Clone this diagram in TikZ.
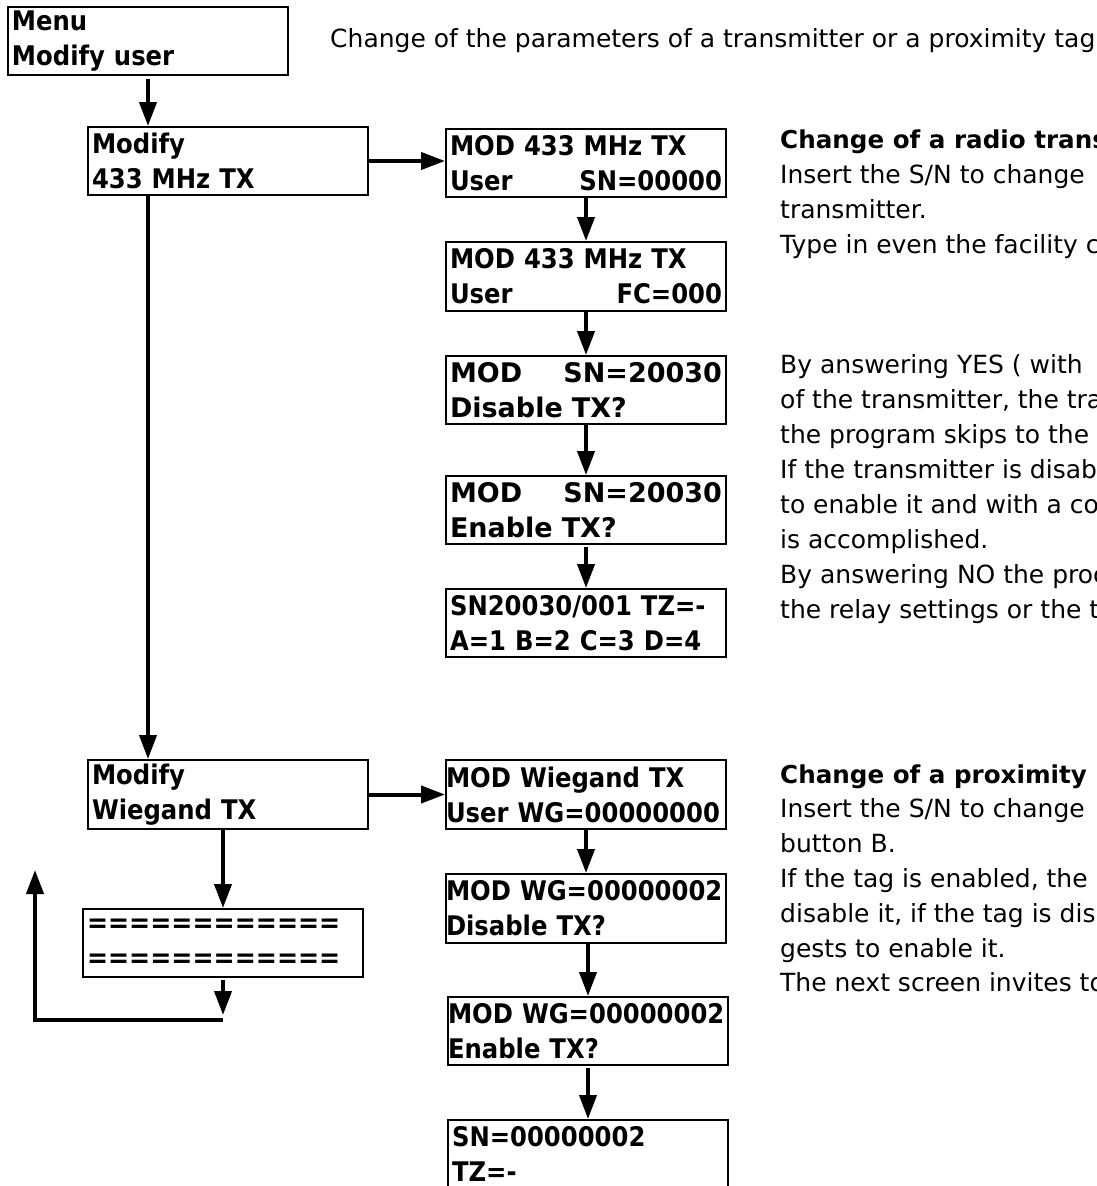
\documentclass[tikz,border=0pt]{standalone}
\usepackage{fontspec}
\setmainfont{DejaVu Sans}
\newfontfamily\lcdfont{DejaVu Sans Condensed}
\usetikzlibrary{arrows.meta, positioning, calc}

\newcommand{\rpart}[1]{\hskip 0pt plus 1filll #1\hspace*{7pt}}

\tikzset{
  lcd/.style={draw, line width=2pt, anchor=north west, minimum width=280pt, minimum height=68pt,
    text width=272pt, inner xsep=4pt, inner ysep=0pt, align=left,
    font=\lcdfont\bfseries\fontsize{27}{35}\selectfont},
  lcdwide/.style={lcd, font=\bfseries\fontsize{27}{35}\selectfont},
  lcdtight/.style={lcd, text width=280pt, inner xsep=0pt},
  body/.style={anchor=base west, inner sep=0pt, font=\fontsize{25}{35}\selectfont},
  head/.style={body, font=\bfseries\fontsize{24.6}{35}\selectfont},
  arr/.style={line width=4pt, -{Triangle[length=24pt,width=17pt]}},
}

\begin{document}
\begin{tikzpicture}[x=1pt, y=-1pt]

  \clip (0,0) rectangle (1096,1186);

  % Menu
  \node[lcd] (menu) at (7,6) {Menu\\Modify user};
  \node[body] (title) at (330,47) {Change of the parameters of a transmitter or a proximity tag};

  % --- 433 MHz column ---
  \node[lcd] (m433) at (87,126) {Modify\\433 MHz TX};
  \node[lcd] (tx1) at (445,128) {MOD 433 MHz TX\\User\rpart{SN=00000}};
  \node[lcd, minimum height=69pt] (tx2) at (445,241) {MOD 433 MHz TX\\User\rpart{FC=000}};
  \node[lcdwide] (tx3) at (445,355) {MOD\rpart{SN=20030}\\Disable TX?};
  \node[lcdwide] (tx4) at (445,475) {MOD\rpart{SN=20030}\\Enable TX?};
  \node[lcd] (tx5) at (445,588) {SN20030/001 TZ=-\\A=1 B=2 C=3 D=4};

  \draw[arr] ([yshift=-3pt]menu.south) -- (menu.south |- m433.north);
  \draw[arr] (m433.east) -- (m433.east -| tx1.west);
  \draw[arr] (tx1.south) -- (tx2.north);
  \draw[arr] (tx2.south) -- (tx3.north);
  \draw[arr] (tx3.south) -- (tx4.north);
  \draw[arr] ([yshift=-2pt]tx4.south) -- (tx5.north);

  % --- Wiegand column ---
  \node[lcd, minimum height=69pt] (mwg) at (87,759) {Modify\\Wiegand TX};
  \node[lcdtight, minimum height=69pt] (wg1) at (445,759) {MOD Wiegand TX\\User WG=00000000};
  \node[lcdtight, minimum height=69pt] (wg2) at (445,873) {MOD WG=00000002\\Disable TX?};
  \node[lcdtight] (wg3) at (447,996) {MOD WG=00000002\\Enable TX?};
  \node[lcd] (wg4) at (447,1119) {SN=00000002\\TZ=-};
  \node[lcd, font=\lcdfont\bfseries\fontsize{28}{35}\selectfont] (eq) at (82,908) {============\\============};

  \draw[arr] (m433.south -| menu.south) -- (mwg.north -| menu.south);
  \draw[arr] (mwg.east) -- (mwg.east -| wg1.west);
  \draw[arr] (wg1.south) -- (wg2.north);
  \draw[arr] (wg3.north |- wg2.south) -- (wg3.north);
  \draw[arr] ([yshift=-2pt]wg3.south) -- (wg4.north);
  \draw[arr] (eq.north |- mwg.south) -- (eq.north);

  % loop back
  \coordinate (back) at ($(eq.south)+(0,37)$);
  \coordinate (foot) at ($(back)+(0,5)$);
  \coordinate (loop) at (35,870);
  \draw[arr] ([yshift=-2pt]eq.south) -- (back);
  \draw[arr] (foot) -- (foot -| loop) -- (loop);

  % Labels
  \node[head] (radio) at (780,148) {Change of a radio trans};
  \foreach \t [count=\i] in {Insert the S/N to change, transmitter., Type in even the facility c}
    \node[body] (ra\i) at (780,148+35*\i) {\t};
  \foreach \t [count=\i] in {By answering YES ( with, {of the transmitter, the tra}, the program skips to the,
      If the transmitter is disab, to enable it and with a co, is accomplished.,
      By answering NO the proc, the relay settings or the t}
    \node[body] (rb\i) at (780,338+35*\i) {\t};

  \node[head] (prox) at (780,783) {Change of a proximity};
  \foreach \t [count=\i] in {Insert the S/N to change, button B., {If the tag is enabled, the},
      {disable it, if the tag is dis}, gests to enable it., The next screen invites to}
    \node[body] (pa\i) at (780,783+34.8*\i) {\t};

\end{tikzpicture}
\end{document}
